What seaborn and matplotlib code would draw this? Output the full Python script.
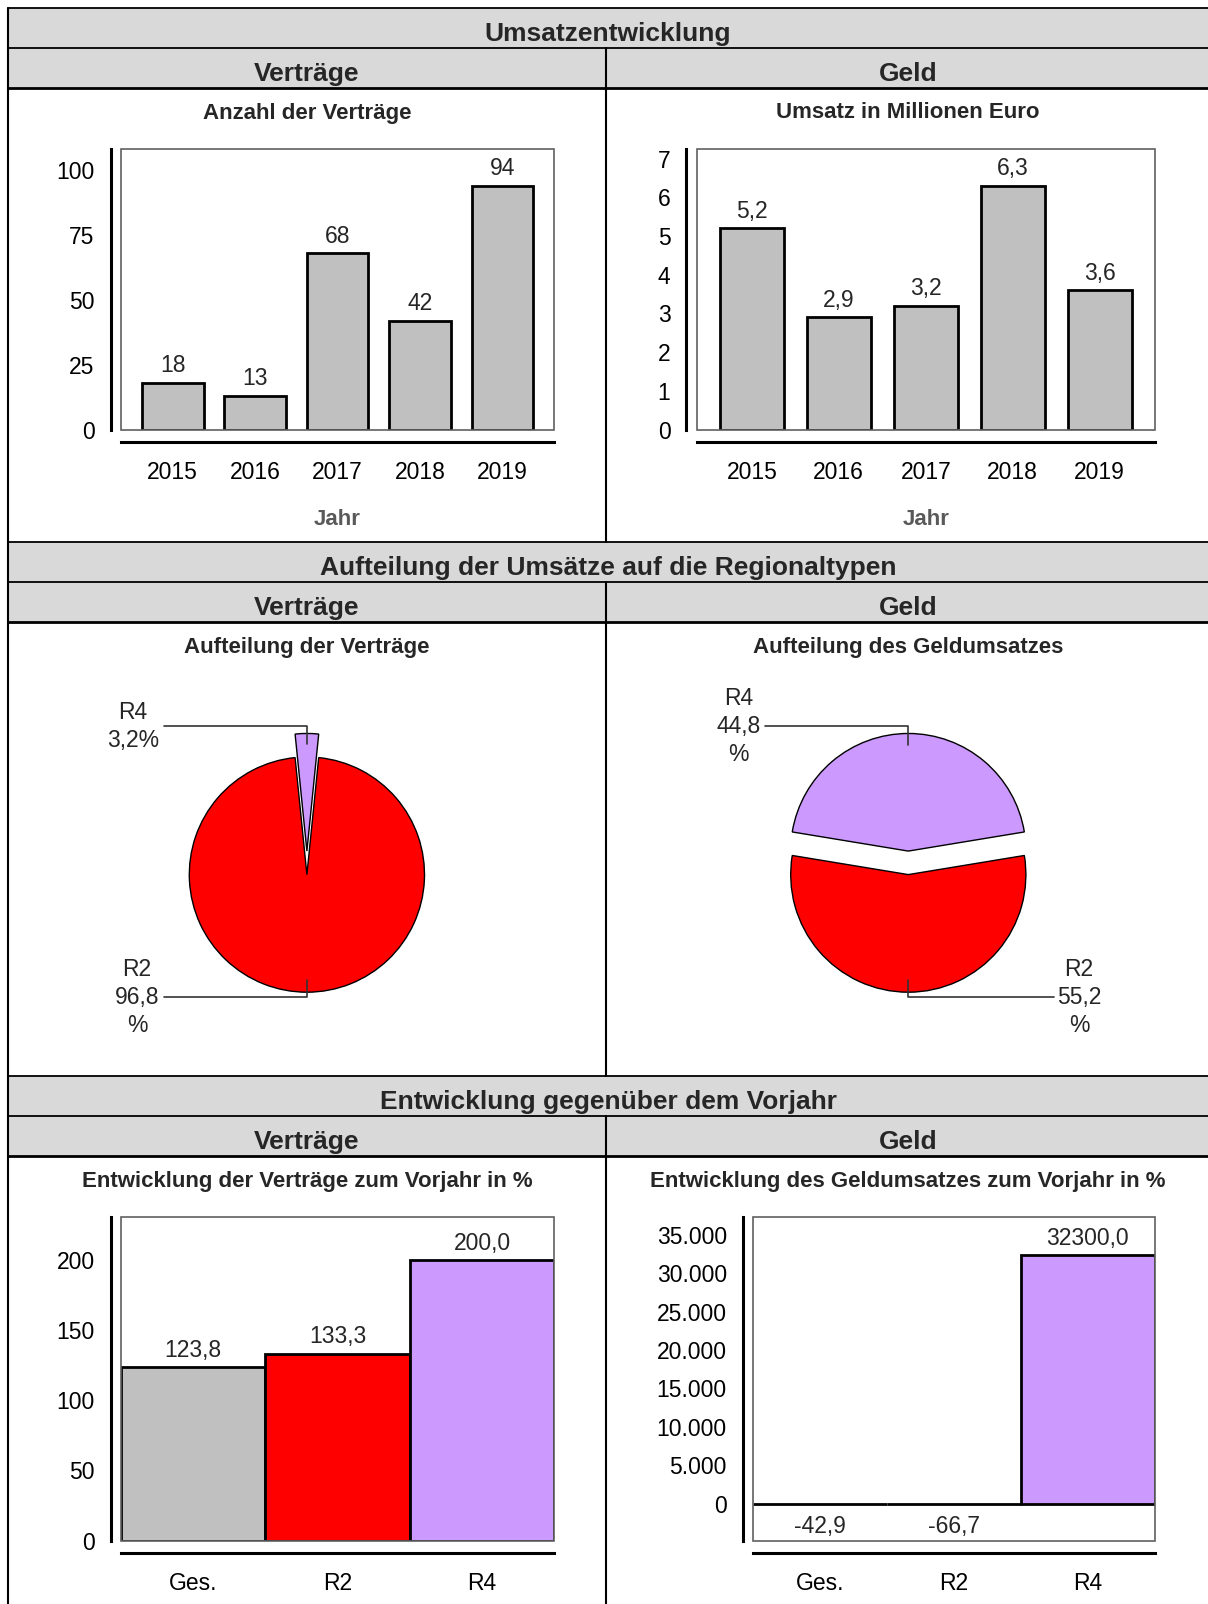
import matplotlib
matplotlib.use('Agg')
import matplotlib.pyplot as plt
from matplotlib.patches import Rectangle
from matplotlib.ticker import FuncFormatter
import pandas as pd
import seaborn as sns

# Werte aus der Vorlage
jahre = ['2015', '2016', '2017', '2018', '2019']
anzahl_vertraege = [18, 13, 68, 42, 94]
umsatz_mio = [5.2, 2.9, 3.2, 6.3, 3.6]

regionen = ['R2', 'R4']
anteil_vertraege = [96.8, 3.2]
anteil_geld = [55.2, 44.8]

gruppen = ['Ges.', 'R2', 'R4']
entw_vertraege = [123.8, 133.3, 200.0]
entw_geld = [-42.9, -66.7, 32300.0]

GRAU = '#c0c0c0'
ROT = '#ff0000'
LILA = '#cc99ff'
BAND = '#d9d9d9'
FS = 16.5

sns.set_style('white')
plt.rcParams['font.family'] = ['Liberation Sans', 'DejaVu Sans']

W, H = 1208, 1604
fig = plt.figure(figsize=(W / 100, H / 100), dpi=100)
fig.patch.set_facecolor('white')

# Hintergrund-Achse in Pixeln (y von oben gezaehlt -> H - y)
bg = fig.add_axes([0, 0, 1, 1])
bg.set_xlim(0, W)
bg.set_ylim(0, H)
bg.axis('off')


def de(v, nd=1, gruppe=False):
    s = f'{v:,.{nd}f}' if gruppe else f'{v:.{nd}f}'
    return s.replace(',', 'X').replace('.', ',').replace('X', '.')


MITTE_L, MITTE_R, TEILER = 307, 908, 606
abschnitte = [
    (8, 'Umsatzentwicklung'),
    (542, 'Aufteilung der Umsätze auf die Regionaltypen'),
    (1076, 'Entwicklung gegenüber dem Vorjahr'),
]
for top, titel in abschnitte:
    bg.add_patch(Rectangle((8, H - top - 80), W - 8, 80, color=BAND, lw=0))
    bg.plot([8, W], [H - top, H - top], color='black', lw=1.3)
    bg.plot([8, W], [H - top - 40, H - top - 40], color='black', lw=1.3)
    bg.plot([8, W], [H - top - 80, H - top - 80], color='black', lw=2)
    bg.plot([TEILER, TEILER], [H - top - 40, H - top - 534], color='black', lw=1.5)
    bg.text(608, H - top - 26, titel, ha='center', va='center', fontsize=19, fontweight='bold')
    bg.text(MITTE_L, H - top - 66, 'Verträge', ha='center', va='center', fontsize=19, fontweight='bold')
    bg.text(MITTE_R, H - top - 66, 'Geld', ha='center', va='center', fontsize=19, fontweight='bold')
bg.plot([8, 8], [H - 8, 0], color='black', lw=1.5)

untertitel = [
    (MITTE_L, 113, 'Anzahl der Verträge'),
    (MITTE_R, 113, 'Umsatz in Millionen Euro'),
    (MITTE_L, 647, 'Aufteilung der Verträge'),
    (MITTE_R, 647, 'Aufteilung des Geldumsatzes'),
    (MITTE_L, 1182, 'Entwicklung der Verträge zum Vorjahr in %'),
    (MITTE_R, 1182, 'Entwicklung des Geldumsatzes zum Vorjahr in %'),
]
for x, y, t in untertitel:
    bg.text(x, H - y, t, ha='center', va='center', fontsize=16, fontweight='bold')


def balken(box, kats, werte, farben, ylim, yticks, fmt, breite, xlim, xlabel=None, yfmt=None):
    l, r, t, b = box
    ax = fig.add_axes([l / W, 1 - b / H, (r - l) / W, (b - t) / H])
    df = pd.DataFrame({'kat': kats, 'wert': werte})
    sns.barplot(data=df, x='kat', y='wert', hue='kat', palette=farben, legend=False,
                width=breite, edgecolor='black', linewidth=2, saturation=1, ax=ax)
    ax.set_xlim(*xlim)
    ax.set_ylim(*ylim)
    ax.set_yticks(yticks)
    if yfmt is not None:
        ax.yaxis.set_major_formatter(FuncFormatter(yfmt))
    ax.set_ylabel('')
    if xlabel:
        ax.set_xlabel(xlabel, fontsize=16, fontweight='bold', color='#595959', labelpad=18)
    else:
        ax.set_xlabel('')
    ax.add_patch(Rectangle((0, 0), 1, 1, transform=ax.transAxes, fill=False,
                           edgecolor='#606060', lw=1.2, clip_on=False, zorder=5))
    sns.despine(ax=ax, offset={'left': 7.3, 'bottom': 8.9})
    for sp in ('left', 'bottom'):
        ax.spines[sp].set_color('black')
        ax.spines[sp].set_linewidth(2.2)
    ax.tick_params(axis='both', direction='out', length=6, width=2, color='black',
                   labelsize=FS, labelcolor='black')
    ax.tick_params(axis='x', pad=8)
    ax.tick_params(axis='y', pad=5.5)
    for c in ax.containers:
        v = c.datavalues[0]
        ax.bar_label(c, labels=[fmt(w) for w in c.datavalues],
                     padding=4 if v >= 0 else 8, fontsize=FS)
    return ax


balken((120.7, 554.4, 149.3, 429.6), jahre, anzahl_vertraege, [GRAU] * 5,
       (0, 108), [0, 25, 50, 75, 100], lambda v: f'{v:.0f}', 0.75, (-0.63, 4.63), 'Jahr')
balken((696.6, 1154.9, 149.3, 429.6), jahre, umsatz_mio, [GRAU] * 5,
       (0, 7.24), list(range(8)), de, 0.74, (-0.635, 4.635), 'Jahr')
balken((120.7, 554.4, 1217.3, 1540.5), gruppen, entw_vertraege, [GRAU, ROT, LILA],
       (0, 230.7), [0, 50, 100, 150, 200], de, 1.0, (-0.5, 2.5))
balken((752.9, 1154.9, 1217.3, 1540.5), gruppen, entw_geld, [GRAU, ROT, LILA],
       (-4791, 37262), list(range(0, 35001, 5000)), de, 1.0, (-0.5, 2.5),
       yfmt=lambda v, p: de(v, 0, gruppe=True))

# Kreisdiagramme (explode wirkt in Dateneinheiten -> Pixel)
R = 117.6
CY = 874.6
for cx, anteile in ((306.9, anteil_vertraege), (908.3, anteil_geld)):
    start = 90 + 360 * anteile[1] / 2 / 100
    bg.pie(anteile, colors=[ROT, LILA], explode=[0, 0.2 * R], startangle=start,
           radius=R, center=(cx, H - CY), frame=True,
           wedgeprops={'edgecolor': 'black', 'linewidth': 1})
bg.set_xlim(0, W)
bg.set_ylim(0, H)
bg.axis('off')

lc = dict(color='#333333', lw=1.2)
tx = dict(ha='center', va='center', fontsize=FS, linespacing=1.28)
# links
bg.plot([163.7, 306.9, 306.9], [H - 726.3, H - 726.3, H - 744], **lc)
bg.text(133, H - 726.3, f'{regionen[1]}\n{de(anteil_vertraege[1])}%', **tx)
bg.plot([163.7, 306.9, 306.9], [H - 997.3, H - 997.3, H - 980], **lc)
bg.text(137, H - 997.3, f'{regionen[0]}\n{de(anteil_vertraege[0])}\n%', **tx)
# rechts
bg.plot([765, 908.3, 908.3], [H - 726.3, H - 726.3, H - 745], **lc)
bg.text(738.5, H - 726.3, f'{regionen[1]}\n{de(anteil_geld[1])}\n%', **tx)
bg.plot([908.3, 908.3, 1053.6], [H - 980, H - 997.3, H - 997.3], **lc)
bg.text(1079, H - 997.3, f'{regionen[0]}\n{de(anteil_geld[0])}\n%', **tx)

fig.savefig('out.png', dpi=100)
